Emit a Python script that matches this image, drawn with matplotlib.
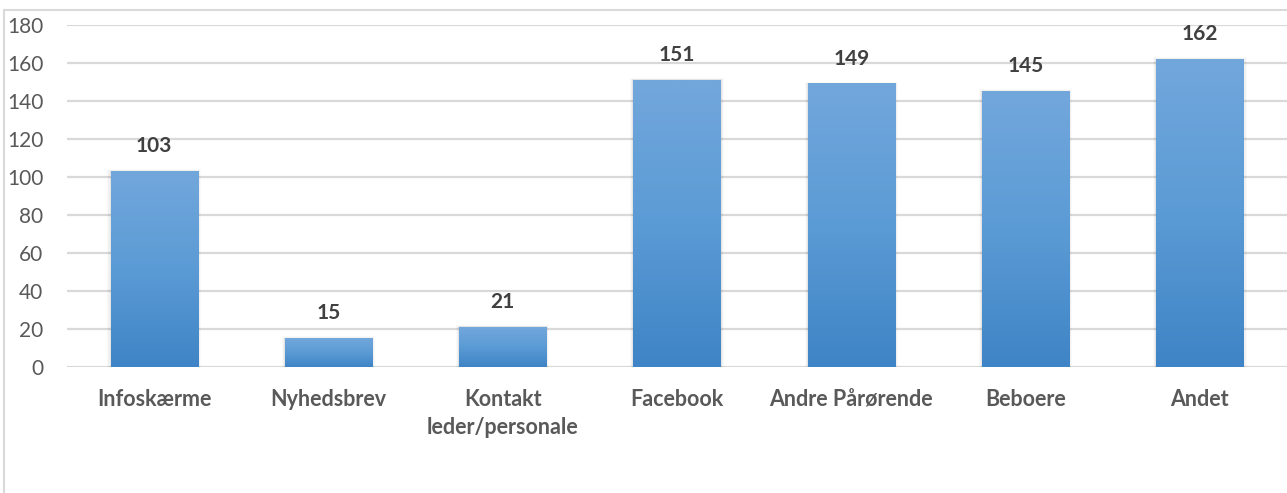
import numpy as np
import matplotlib.pyplot as plt
from matplotlib.colors import LinearSegmentedColormap
from matplotlib.patches import Rectangle

categories = ['Infoskærme', 'Nyhedsbrev', 'Kontakt\nleder/personale', 'Facebook',
              'Andre Pårørende', 'Beboere', 'Andet']
values = [103, 15, 21, 151, 149, 145, 162]
y_ticks = [0, 20, 40, 60, 80, 100, 120, 140, 160, 180]

plt.rcParams['font.family'] = ['Lato', 'DejaVu Sans']

fig = plt.figure(figsize=(12.87, 4.93), dpi=100)
ax = fig.add_axes([67 / 1287, 126 / 493, 1 - 67 / 1287, (468 - 126) / 493])

x = np.arange(len(categories))
bars = ax.bar(x, values, width=0.5, color='none', edgecolor='none', zorder=3)

# vertical gradient inside each bar (light top, darker bottom)
cmap = LinearSegmentedColormap.from_list('excelblue', ['#3f84c6', '#5b9bd5', '#72a7dc'])
grad = np.linspace(0, 1, 256).reshape(-1, 1)
for b in bars:
    x0, y0 = b.get_x(), b.get_y()
    w, h = b.get_width(), b.get_height()
    # soft shadow
    for i, a in enumerate([0.05, 0.035, 0.02]):
        d = 0.006 * (i + 1)
        ax.add_patch(Rectangle((x0 - d, y0), w + 2 * d, h + d * 60, facecolor='#000000',
                               alpha=a, edgecolor='none', zorder=2))
    ax.imshow(grad, cmap=cmap, origin='lower', aspect='auto',
              extent=(x0, x0 + w, y0, y0 + h), zorder=3)
    ax.text(x0 + w / 2, h + 8, f'{h:.0f}', ha='center', va='bottom',
            fontsize=15, fontweight='bold', color='#404040')

ax.set_xlim(-0.5, len(categories) - 0.5)
ax.set_ylim(0, 180)
ax.set_yticks(y_ticks)
ax.set_xticks(x)
ax.set_xticklabels(categories, fontsize=15.5, fontweight='bold', color='#595959',
                   linespacing=1.4)
ax.tick_params(axis='y', labelsize=15, colors='#595959', length=0, pad=17)
ax.tick_params(axis='x', length=0, pad=16)

ax.grid(axis='y', color='#d9d9d9', linewidth=1.6, zorder=0)
ax.set_axisbelow(True)
for s in ax.spines.values():
    s.set_visible(False)

# outer chart border
fig.patches.append(Rectangle((4 / 1287, -0.1), 1.2, 1.1 - 10 / 493,
                             transform=fig.transFigure, fill=False,
                             edgecolor='#d9d9d9', linewidth=1.5))

fig.savefig('out.png', dpi=100)
